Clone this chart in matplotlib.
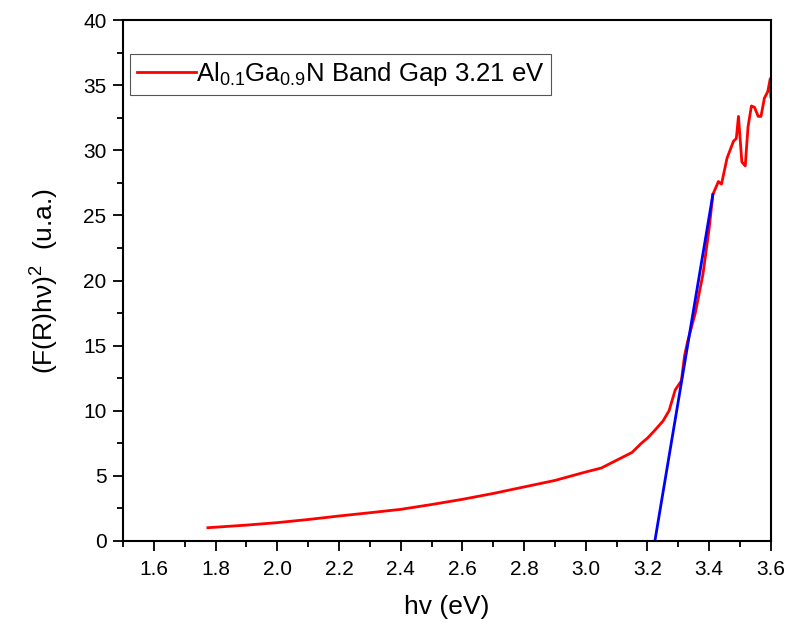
import matplotlib
matplotlib.use("Agg")
import matplotlib.pyplot as plt
from matplotlib.ticker import MultipleLocator

plt.rcParams['font.family'] = ['Liberation Sans', 'DejaVu Sans']
plt.rcParams['mathtext.fontset'] = 'custom'
plt.rcParams['mathtext.rm'] = 'Liberation Sans'
plt.rcParams['mathtext.it'] = 'Liberation Sans'

# red curve
hv = [1.775, 1.9, 2.0, 2.1, 2.2, 2.3, 2.4, 2.5, 2.6, 2.7, 2.8, 2.9, 3.0, 3.05,
      3.1, 3.15, 3.18, 3.2, 3.22, 3.25, 3.27, 3.29, 3.31, 3.32, 3.33, 3.355,
      3.38, 3.40, 3.412, 3.43, 3.44, 3.458, 3.479, 3.488, 3.495, 3.506, 3.517,
      3.526, 3.537, 3.547, 3.559, 3.568, 3.579, 3.59, 3.598, 3.6]
frhv2 = [1.02, 1.22, 1.41, 1.65, 1.92, 2.17, 2.43, 2.8, 3.2, 3.65, 4.15, 4.65,
         5.3, 5.6, 6.2, 6.8, 7.5, 7.9, 8.4, 9.2, 10.0, 11.6, 12.3, 14.2, 15.3,
         17.5, 20.5, 24.0, 26.6, 27.6, 27.4, 29.4, 30.7, 30.9, 32.6, 29.1, 28.8,
         31.8, 33.4, 33.3, 32.6, 32.6, 34.0, 34.5, 35.5, 34.1]

# linear fit (tangent) for band gap
fit_x = [3.224, 3.412]
fit_y = [0.0, 26.6]

fig = plt.figure(figsize=(7.89, 6.25), dpi=100)
ax = fig.add_axes([0.156, 0.1344, 0.821, 0.8336])

ax.plot(hv, frhv2, color='red', lw=2, label='Al$_{0.1}$Ga$_{0.9}$N Band Gap 3.21 eV')
ax.plot(fit_x, fit_y, color='blue', lw=2)

ax.set_xlim(1.5, 3.6)
ax.set_ylim(0, 40)
ax.xaxis.set_major_locator(MultipleLocator(0.2))
ax.xaxis.set_minor_locator(MultipleLocator(0.1))
ax.yaxis.set_major_locator(MultipleLocator(5))
ax.yaxis.set_minor_locator(MultipleLocator(2.5))
ax.tick_params(which='both', direction='out', width=1.3, labelsize=15)
ax.tick_params(which='major', length=7)
ax.tick_params(which='minor', length=4)
ax.tick_params(axis='x', pad=7)
ax.tick_params(axis='y', pad=5)
ax.set_xticklabels(['%.1f' % t for t in ax.get_xticks()])
for s in ax.spines.values():
    s.set_linewidth(1.5)

ax.set_xlabel('hv (eV)', fontsize=19, labelpad=11)
ax.set_ylabel('(F(R)h\u03bd)$^2$  (u.a.)', fontsize=19, labelpad=16)

leg = ax.legend(loc='upper left', fontsize=18.5, fancybox=False, framealpha=1,
                edgecolor='#555555', handlelength=2.3, handletextpad=0.0,
                borderpad=0.25, borderaxespad=0.4, bbox_to_anchor=(-0.005, 0.955))
leg.get_frame().set_linewidth(0.8)

fig.savefig('out.png', dpi=100)
